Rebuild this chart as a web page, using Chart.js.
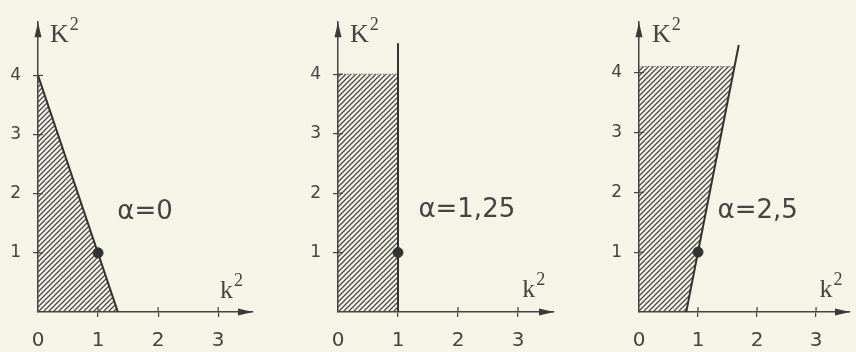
<!DOCTYPE html>
<html><head><meta charset="utf-8">
<script src="https://cdn.jsdelivr.net/npm/chart.js@4"></script>
<style>
html,body{margin:0;padding:0;background:#f4f4e7;width:856px;height:352px;overflow:hidden;position:relative}
canvas{position:absolute;top:0}
</style></head><body>
<canvas id="c1" width="260" height="352" style="left:0px"></canvas>
<canvas id="c2" width="270" height="352" style="left:290px"></canvas>
<canvas id="c3" width="276" height="352" style="left:580px"></canvas>
<script>
// ---- data ----
const xTicks = [0, 1, 2, 3];
const yTicks = [1, 2, 3, 4];
const alphaLabels = ['α=0', 'α=1,25', 'α=2,5'];
const pointX = [1], pointY = [1];
// panel 1 (α=0): hatched region between top and bottom edges
const topX1 = [0, 1.33], topY1 = [4, 0];
const botX1 = [0, 1.33], botY1 = [0, 0];
const boundaryX1 = [0, 1.33], boundaryY1 = [4, 0];
// panel 2 (α=1,25)
const topX2 = [0, 1], topY2 = [4, 4];
const botX2 = [0, 1], botY2 = [0, 0];
const boundaryX2 = [1, 1], boundaryY2 = [0, 4.52];
// panel 3 (α=2,5)
const topX3 = [0, 1.62], topY3 = [4.1, 4.1];
const botX3 = [0, 0.8, 1.62], botY3 = [0, 0, 4.1];
const boundaryX3 = [0.8, 1.69], boundaryY3 = [0, 4.46];

const zip = (xs, ys) => xs.map((x, i) => ({x, y: ys[i]}));

function hatchPattern(){
  const s = 5, cv = document.createElement('canvas');
  cv.width = s; cv.height = s;
  const g = cv.getContext('2d');
  g.strokeStyle = '#4a4a4a'; g.lineWidth = 1.25;
  g.beginPath();
  g.moveTo(0, s); g.lineTo(s, 0);
  g.moveTo(-1, 1); g.lineTo(1, -1);
  g.moveTo(s - 1, s + 1); g.lineTo(s + 1, s - 1);
  g.stroke();
  return g.createPattern(cv, 'repeat');
}

function supText(c, base, sup, x, y, bf, sf){
  c.font = bf; c.textBaseline = 'alphabetic'; c.textAlign = 'left';
  c.fillText(base, x, y);
  const w = c.measureText(base).width;
  c.font = sf; c.fillText(sup, x + w + 1, y - 12);
}

const decor = {
  id: 'decor',
  afterDraw(chart, args, o){
    const c = chart.ctx, xs = chart.scales.x, ys = chart.scales.y, a = chart.chartArea;
    c.save();
    c.strokeStyle = '#444'; c.fillStyle = '#3a3a3a'; c.lineWidth = 1.2;
    xTicks.forEach(v => { if (v === 0) return; const px = xs.getPixelForValue(v);
      c.beginPath(); c.moveTo(px, a.bottom); c.lineTo(px, a.bottom - 5); c.stroke(); });
    yTicks.forEach(v => { const py = ys.getPixelForValue(v);
      c.beginPath(); c.moveTo(a.left, py); c.lineTo(a.left + 5, py); c.stroke(); });
    // arrowheads
    c.beginPath(); c.moveTo(a.left, a.top); c.lineTo(a.left - 3.5, a.top + 15); c.lineTo(a.left + 3.5, a.top + 15); c.closePath(); c.fill();
    c.beginPath(); c.moveTo(a.right, a.bottom); c.lineTo(a.right - 15, a.bottom - 3.5); c.lineTo(a.right - 15, a.bottom + 3.5); c.closePath(); c.fill();
    // labels
    c.fillStyle = '#444';
    supText(c, 'K', '2', a.left + o.Koff, 42, '26px "Liberation Serif"', '18px "Liberation Serif"');
    supText(c, 'k', '2', xs.getPixelForValue(o.kPos[0]), ys.getPixelForValue(o.kPos[1]), '26px "Liberation Serif"', '18px "Liberation Serif"');
    c.font = '26px "DejaVu Sans"'; c.textAlign = 'left'; c.textBaseline = 'alphabetic';
    c.fillText(o.alpha, xs.getPixelForValue(o.aPos[0]), ys.getPixelForValue(o.aPos[1]));
    c.restore();
  }
};

function makeChart(id, p){
  return new Chart(document.getElementById(id), {
    type: 'scatter',
    data: { datasets: [
      { data: zip(p.tx, p.ty), showLine: true, fill: '+1', backgroundColor: hatchPattern(),
        borderColor: '#666', borderWidth: 1, borderDash: [1.5, 1.5], pointRadius: 0, order: 3 },
      { data: zip(p.lx, p.ly), showLine: true, fill: false, borderWidth: 0, borderColor: 'rgba(0,0,0,0)', pointRadius: 0, order: 4 },
      { data: zip(p.bx, p.by), showLine: true, fill: false, borderColor: '#333', borderWidth: 2, pointRadius: 0, order: 2 },
      { data: zip(pointX, pointY), showLine: false, pointRadius: 5, backgroundColor: '#333', borderColor: '#333', order: 1 }
    ]},
    options: {
      responsive: false, animation: false, events: [],
      layout: { padding: { top: 18, right: p.padR, left: 0, bottom: 0 } },
      plugins: { legend: { display: false }, tooltip: { enabled: false },
        decor: { alpha: p.alpha, Koff: p.Koff, kPos: p.kPos, aPos: p.aPos } },
      scales: {
        x: { type: 'linear', min: 0, max: p.xMax,
          afterBuildTicks: s => { s.ticks = xTicks.map(v => ({value: v})); },
          afterFit: s => { s.height = 40; },
          grid: { drawOnChartArea: false, tickLength: 5, color: ctx => (ctx.tick && ctx.tick.value === 0) ? 'rgba(0,0,0,0)' : '#444', lineWidth: 1.2 },
          border: { color: '#444', width: 1.5 },
          ticks: { padding: 12, color: '#444', font: { family: '"DejaVu Sans"', size: 20 }, maxRotation: 0 } },
        y: { type: 'linear', min: 0, max: p.yMax,
          afterBuildTicks: s => { s.ticks = yTicks.map(v => ({value: v})); },
          afterFit: s => { s.width = p.axisW; },
          grid: { drawOnChartArea: false, tickLength: 5, color: '#444', lineWidth: 1.2 },
          border: { color: '#444', width: 1.5 },
          ticks: { padding: 12, color: '#444', font: { family: '"DejaVu Sans"', size: 17 } } }
      }
    },
    plugins: [decor]
  });
}

makeChart('c1', { tx: topX1, ty: topY1, lx: botX1, ly: botY1, bx: boundaryX1, by: boundaryY1, alpha: alphaLabels[0],
  axisW: 38, padR: 7, xMax: 3.58, yMax: 4.9, Koff: 12, kPos: [3.03, 0.23], aPos: [1.32, 1.58] });
makeChart('c2', { tx: topX2, ty: topY2, lx: botX2, ly: botY2, bx: boundaryX2, by: boundaryY2, alpha: alphaLabels[1],
  axisW: 48, padR: 5, xMax: 3.6, yMax: 4.875, Koff: 12, kPos: [3.07, 0.25], aPos: [1.34, 1.59] });
makeChart('c3', { tx: topX3, ty: topY3, lx: botX3, ly: botY3, bx: boundaryX3, by: boundaryY3, alpha: alphaLabels[2],
  axisW: 59, padR: 0, xMax: 3.575, yMax: 4.84, Koff: 13, kPos: [3.06, 0.25], aPos: [1.33, 1.57] });
</script>
</body></html>
